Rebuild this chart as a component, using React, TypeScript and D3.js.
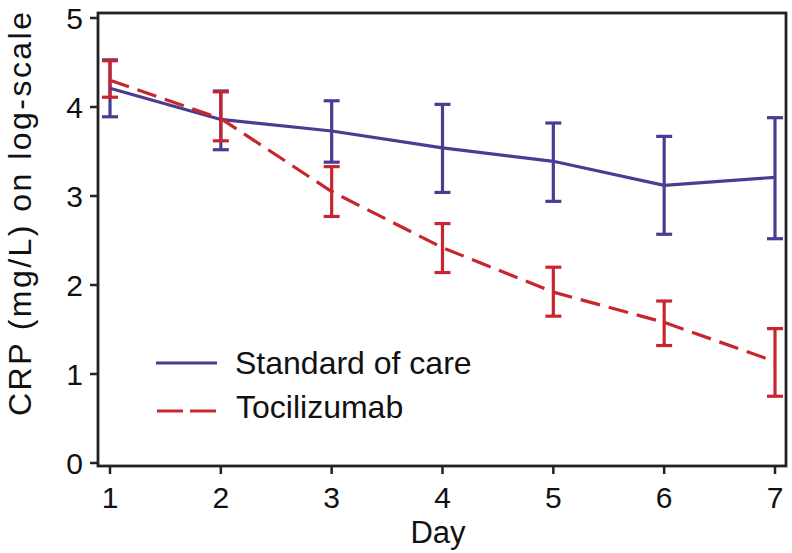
import React from "react";
import * as d3 from "d3";

const days = [1, 2, 3, 4, 5, 6, 7];
const socMean = [4.21, 3.86, 3.73, 3.54, 3.39, 3.12, 3.21];
const socLow = [3.89, 3.52, 3.38, 3.04, 2.94, 2.57, 2.52];
const socHigh = [4.53, 4.18, 4.07, 4.03, 3.82, 3.67, 3.88];
const tocMean = [4.3, 3.87, 3.05, 2.42, 1.92, 1.58, 1.14];
const tocLow = [4.11, 3.62, 2.77, 2.14, 1.65, 1.32, 0.75];
const tocHigh = [4.52, 4.17, 3.33, 2.69, 2.2, 1.82, 1.51];
const yTicks = [0, 1, 2, 3, 4, 5];
const seriesNames = ["Standard of care", "Tocilizumab"];

const BLUE = "#4B3C93";
const RED = "#C8262E";
const FONT = "'Liberation Sans', Arial, Helvetica, sans-serif";

export default function App() {
  const W = 792, H = 553;
  const left = 98, right = 786, top = 13, bottom = 466;
  const x = d3.scaleLinear().domain([1, 7]).range([110, 775]);
  const y = d3.scaleLinear().domain([0, 5]).range([463, 18]);
  const line = d3
    .line<number>()
    .x((_, i) => x(days[i]))
    .y((d) => y(d));
  const cap = 8;

  const series = [
    { mean: socMean, lo: socLow, hi: socHigh, color: BLUE, dash: undefined as string | undefined },
    { mean: tocMean, lo: tocLow, hi: tocHigh, color: RED, dash: "20,9" },
  ];

  return (
    <svg
      width={W}
      height={H}
      style={{ position: "absolute", left: 0, top: 0, background: "#fff" }}
      fontFamily={FONT}
    >
      {/* error bars */}
      {series.map((s, si) => (
        <g key={"eb" + si} stroke={s.color} strokeWidth={3.2} fill="none">
          {days.map((d, i) => (
            <g key={i}>
              <line x1={x(d)} x2={x(d)} y1={y(s.lo[i])} y2={y(s.hi[i])} />
              <line x1={x(d) - cap} x2={x(d) + cap} y1={y(s.lo[i])} y2={y(s.lo[i])} />
              <line x1={x(d) - cap} x2={x(d) + cap} y1={y(s.hi[i])} y2={y(s.hi[i])} />
            </g>
          ))}
        </g>
      ))}
      {/* lines */}
      {series.map((s, si) => (
        <path
          key={"ln" + si}
          d={line(s.mean) || ""}
          fill="none"
          stroke={s.color}
          strokeWidth={3.2}
          strokeDasharray={s.dash}
        />
      ))}
      {/* box */}
      <rect x={left} y={top} width={right - left} height={bottom - top} fill="none" stroke="#222" strokeWidth={2.8} />
      {/* y ticks */}
      {yTicks.map((t) => (
        <g key={"yt" + t}>
          <line x1={left - 8} x2={left} y1={y(t)} y2={y(t)} stroke="#222" strokeWidth={2.5} />
          <text x={left - 15} y={y(t) + 10.5} textAnchor="end" fontSize={30} fill="#111">
            {t}
          </text>
        </g>
      ))}
      {/* x ticks */}
      {days.map((d) => (
        <g key={"xt" + d}>
          <line x1={x(d)} x2={x(d)} y1={bottom} y2={bottom + 8} stroke="#222" strokeWidth={2.5} />
          <text x={x(d)} y={bottom + 42} textAnchor="middle" fontSize={30} fill="#111">
            {d}
          </text>
        </g>
      ))}
      <text x={438} y={543} textAnchor="middle" fontSize={31} fill="#111">
        Day
      </text>
      <text
        transform={`translate(31, 214) rotate(-90)`}
        textAnchor="middle"
        fontSize={32}
        textLength={404}
        lengthAdjust="spacing"
        fill="#111"
      >
        CRP (mg/L) on log-scale
      </text>
      {/* legend */}
      <line x1={156} x2={217} y1={363} y2={363} stroke={BLUE} strokeWidth={3.2} />
      <text x={235} y={374} fontSize={32} fill="#111">
        {seriesNames[0]}
      </text>
      <line x1={157} x2={216} y1={411} y2={411} stroke={RED} strokeWidth={3.2} strokeDasharray="26,7" />
      <text x={236} y={418} fontSize={32} fill="#111">
        {seriesNames[1]}
      </text>
    </svg>
  );
}
